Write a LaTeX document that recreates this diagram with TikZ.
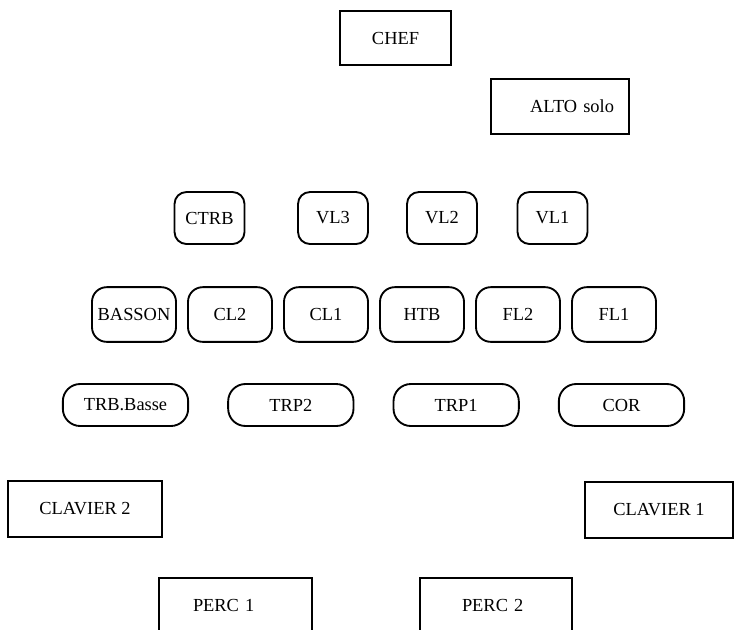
\documentclass[tikz,border=0pt]{standalone}
\usepackage{fontspec}
\setmainfont{Liberation Serif}
\usetikzlibrary{positioning}

\begin{document}
\begin{tikzpicture}[x=0.75pt,y=-0.75pt,line width=1.4pt,node distance=72pt,
    every node/.style={font=\fontsize{13.8}{16}\selectfont},
    box node/.style={rectangle,draw,minimum height=41pt},
    str node/.style={rectangle,draw,rounded corners=9pt,minimum width=52.5pt,minimum height=39pt},
    wood node/.style={rectangle,draw,rounded corners=11pt,minimum width=63pt,minimum height=41pt},
    brass node/.style={rectangle,draw,rounded corners=13pt,minimum width=94pt,minimum height=31.5pt}]
\clip (0,0) rectangle (734,629);
%%%%%
\node[box node,minimum width=83pt] (chef) at (395.5,38) {CHEF};
\node[box node,minimum width=103.5pt,text width=81pt,align=right,inner xsep=11pt] (alto) at (560,106.5) {ALTO solo};
%%%%%%% cordes
\node[str node] (ctrb) at (209.5,218) {CTRB};
\node[str node] (vl3) at (333,218) {VL3};
\node[str node] (vl2) at (442,218) {VL2};
\node[str node] (vl1) at (552.5,218) {VL1};
%%%%%%% bois
\node[wood node,inner xsep=1pt] (basson) at (134,314.5) {BASSON};
  \node[wood node] (cl2) [right of=basson] {CL2};
  \node[wood node] (cl1) [right of=cl2] {CL1};
  \node[wood node] (htb) [right of=cl1] {HTB};
  \node[wood node] (fl2) [right of=htb] {FL2};
  \node[wood node] (fl1) [right of=fl2] {FL1};
%%%%%%% cuivres
\node[brass node] (trb) at (125.5,405) {TRB.Basse};
  \node[brass node,node distance=124pt] (trp2) [right of=trb] {TRP2};
  \node[brass node,node distance=124pt] (trp1) [right of=trp2] {TRP1};
  \node[brass node,node distance=124pt] (cor) [right of=trp1] {COR};
%%%%%%% claviers et percussions
\node[box node,minimum width=115.5pt,minimum height=42pt] (clav2) at (85,509) {CLAVIER 2};
\node[box node,minimum width=111pt,minimum height=42pt] (clav1) at (659,510) {CLAVIER 1};
\node[box node,minimum width=115pt,text width=63.75pt,align=left,inner xsep=25.5pt] (perc1) at (235.5,605) {PERC 1};
\node[box node,minimum width=114pt,text width=51pt,align=left,inner xsep=31.5pt] (perc2) at (496,605) {PERC 2};
\end{tikzpicture}
\end{document}
